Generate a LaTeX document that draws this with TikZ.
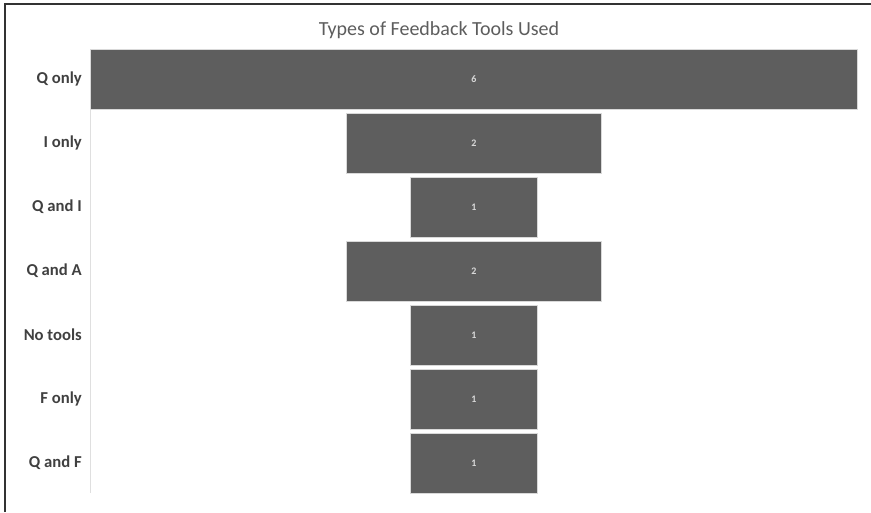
\documentclass[tikz,border=0pt]{standalone}
\usepackage{fontspec}
\setmainfont{Carlito}
\usetikzlibrary{positioning}

\definecolor{barfill}{HTML}{5E5E5E}
\definecolor{labtext}{HTML}{404040}

\begin{document}
\begin{tikzpicture}[x=0.75pt,y=-0.75pt,
    bar/.style={draw=gray!30,fill=barfill,text=white!85!black,line width=0.6pt,
      minimum height=45pt,inner sep=0pt,font=\bfseries\fontsize{7.5}{8}\selectfont},
    cat/.style={anchor=east,inner sep=0pt,text=labtext,font=\bfseries\fontsize{12.5}{14}\selectfont},
    frame/.style={draw=black!80,line width=1.1pt}]
    \useasboundingbox (0,0) rectangle (871,512);

    % outer frame, top and left side only
    \coordinate (fbot) at (5,512);
    \coordinate (fcorner) at (5,4);
    \coordinate (fright) at (871,4);
    \draw[frame] (fbot) -- (fcorner) -- (fright);

    \node[text=labtext!85,font=\fontsize{15}{17}\selectfont] (title) at (439,30) {Types of Feedback Tools Used};

    % category axis
    \coordinate (axtop) at (90,49);
    \coordinate (axbot) at (90,493);
    \draw[gray!25,line width=0.6pt] (axtop) -- (axbot);

    % one centred bar per category, 95.8pt per count
    \foreach \lbl/\val [count=\i] in {Q only/6, I only/2, Q and I/1, Q and A/2,
                                      No tools/1, F only/1, Q and F/1} {
        \node[bar,minimum width=\val*95.8pt] (bar\i) at (474,15+64*\i) {\val};
        \node[cat] (lab\i) at (82,15+64*\i) {\lbl};
    }
\end{tikzpicture}
\end{document}
